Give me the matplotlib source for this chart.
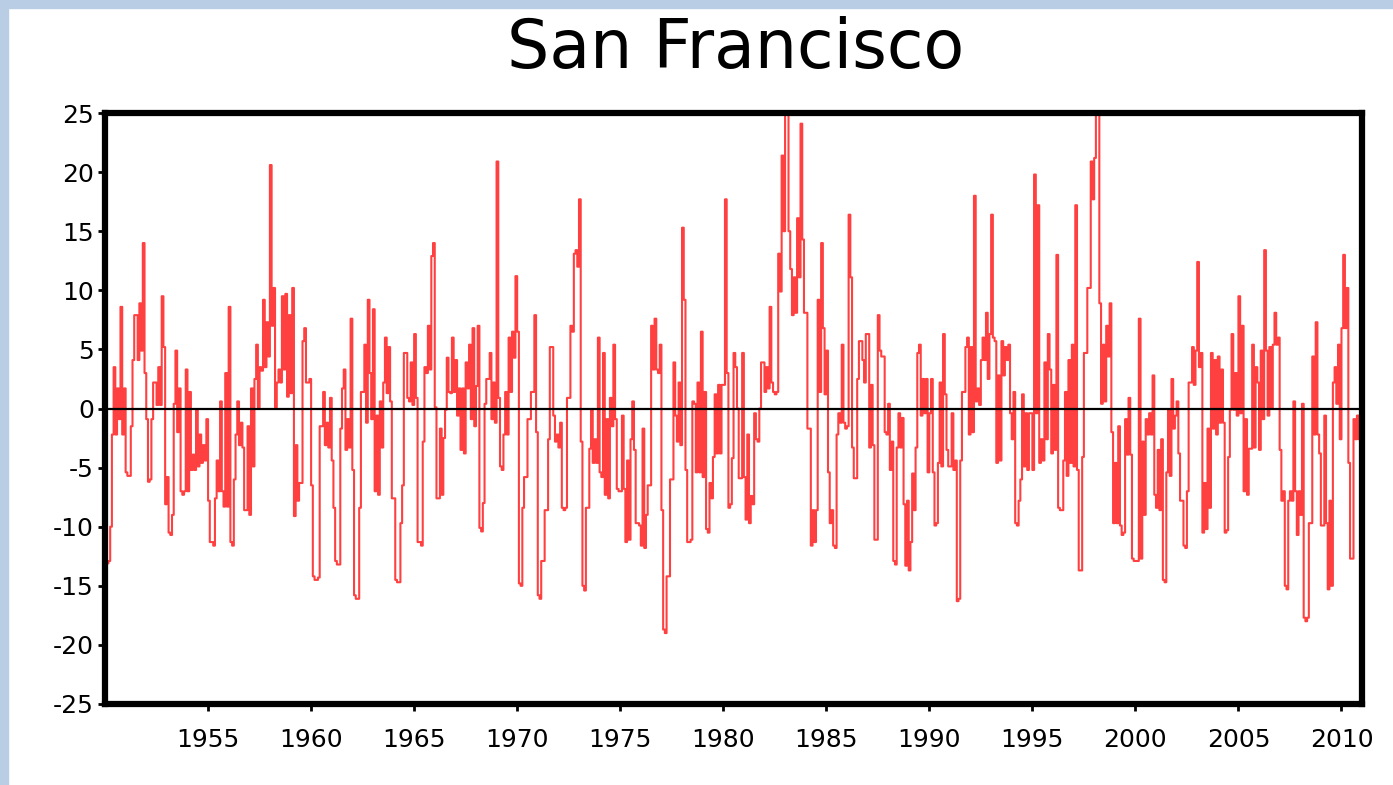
import numpy as np
import matplotlib.pyplot as plt

# monthly anomalies, one list per 5-year block
v1950 = [-6.8, -13.1, -12.9, -10, -2.2, 3.5, -2.2, 1.7, -0.9, 8.6,
         -2.2, 1.7, -5.4, -5.7, -5.7, -1.5, 4.1, 7.9, 7.9, 4.1,
         8.9, 4.9, 14, 3, -0.9, -6.2, -6.0, -0.9, 2.2, 2.2,
         0.3, 3.5, 0.3, 9.5, 5.2, -8.1, -5.8, -10.5, -10.7, -9,
         0.4, 4.9, -2, 1.7, -7, -7.3, -7, 3.3, -7, 1.4,
         -5.2, -3.9, -5.2, -0.1, -4.9, -2.2, -4.6, -3.1, -4.4, -0.9]
v1955 = [-7.8, -11.3, -11.3, -11.6, -7.6, -4.4, -7.0, 0.6, -7.0, -8.3,
         3.0, -8.3, 8.6, -11.3, -11.6, -6.0, -2.2, 0.6, -3.1, -1.2,
         -3.3, -8.6, -8.6, -1.5, -9.0, 1.7, -4.9, 2.5, 5.4, 0.1,
         3.5, 3.2, 9.2, 3.5, 7.3, 4.4, 20.6, 7.0, 10.2, 0.1,
         2.2, 3.3, 2.2, 9.5, 3.3, 9.7, 1.0, 7.9, 1.3, 10.2,
         -9.1, -3.1, -7.8, -6.3, -6.3, 5.7, 6.8, 2.2, 2.2, 2.5]
v1960 = [-6.5, -14.2, -14.5, -14.5, -14.3, -1.5, -1.5, 1.4, -3.1, -1.2,
         -3.3, 0.9, -4.4, -8.4, -12.9, -13.2, -13.2, -1.7, 1.7, 3.3,
         -3.5, -0.9, -3.3, 7.6, -5.2, -15.8, -16.1, -16.1, -8.4, 1.4,
         1.4, 5.4, -1.2, 9.2, 3.0, -0.9, 8.4, -7.0, -0.6, -7.3,
         0.6, -3.3, 2.2, 6.0, 1.3, 5.2, 0.6, -7.6, -7.6, -14.5,
         -14.7, -14.7, -9.7, -6.5, 4.7, 4.7, 0.9, 0.6, 3.9, 0.3]
v1965 = [6.3, 0.9, -11.3, -11.3, -11.6, -2.8, 3.5, 3.0, 7.0, 3.3,
         12.9, 14.0, 0.1, -7.6, -7.6, -1.7, -7.3, -2.5, -0.1, 4.3,
         1.4, 1.3, 6.0, 1.4, 4.1, -0.6, 1.7, -3.5, 1.7, -3.8,
         3.9, 1.7, 5.4, -0.9, 6.8, -1.5, 1.9, 7.0, -10.1, -10.4,
         -8.0, 0.4, 2.5, 2.5, 4.7, -0.9, 2.2, -1.2, 20.9, 0.9,
         -4.9, -5.2, -2.2, 1.4, -2.2, 6.0, 1.4, 6.5, 4.3, 11.2]
v1970 = [6.5, -14.8, -15.0, -8.4, -5.8, -5.8, -0.9, -0.9, 1.4, 1.4,
         7.9, -2.0, -15.8, -16.1, -12.9, -12.9, -8.6, -8.6, -2.6, 5.2,
         5.2, -0.6, -2.8, -2.2, -3.3, -1.2, -8.4, -8.6, -8.4, 0.9,
         0.9, 7.0, 6.5, 13.1, 13.4, 12.0, 17.7, -2.8, -15.0, -15.4,
         -8.4, -8.4, -3.4, -0.1, -4.6, -2.6, -4.6, 6.0, -5.4, -5.8,
         4.7, -7.3, -0.9, -7.6, 0.9, -1.5, 5.4, -0.9, -6.8, -7.0]
v1975 = [-7.0, -0.6, -6.8, -11.3, -4.4, -11.1, -2.6, 0.6, -3.5, -9.7,
         -9.7, -9.9, -11.6, -1.7, -11.8, -9.0, -6.5, -6.5, 7.0, 3.3,
         7.6, 3.3, 3.0, 5.4, -8.6, -18.7, -19.0, -14.2, -14.2, -6.0,
         -6.0, 3.9, -0.6, -2.8, 2.2, -3.1, 15.3, 9.2, -5.2, -11.3,
         -11.3, -11.1, 0.6, 0.4, -5.4, 2.2, -5.4, 6.5, -5.8, 1.4,
         -10.2, -10.5, -6.3, -7.6, -4.1, 1.2, -3.8, 2.0, -3.8, 2.0]
v1980 = [2.0, 17.7, 3.0, -8.4, -8.1, -4.2, 4.7, 3.5, 0.0, -5.9,
         -5.9, 4.7, -5.8, -9.4, -2.2, -9.7, -7.4, -8.1, -0.4, -2.6,
         -2.8, 0.0, 3.9, 3.9, 1.4, 3.5, 1.7, 8.6, 2.2, 1.4,
         1.2, 1.4, 13.1, 9.9, 21.4, 15.0, 24.9, 24.9, 15.0, 11.8,
         7.9, 11.1, 8.1, 16.1, 11.1, 24.1, 14.3, 8.1, 8.1, -1.7,
         -1.7, -11.6, -8.6, -11.3, -8.6, 9.2, 1.4, 14.0, 6.8, 1.2]
v1985 = [4.9, -5.4, -9.7, -8.6, -11.6, -11.8, -2.2, -0.4, -1.2, 5.4,
         -1.2, -1.7, -1.5, 16.4, 11.1, -3.3, -5.9, -5.9, 2.5, 5.7,
         5.7, 4.1, 2.2, 6.3, 6.3, -3.3, 2.0, -3.1, -11.1, -11.1,
         7.9, 4.9, 4.4, 4.4, -2.0, -2.2, 0.4, -5.2, -2.8, -12.9,
         -13.2, -3.3, -0.4, -3.3, -0.8, -8.1, -13.3, -7.8, -13.7, -11.3,
         -5.5, -8.6, -3.3, 4.7, 5.4, -0.6, 2.5, -0.4, 2.5, -5.4]
v1990 = [-0.4, 2.5, -5.4, -9.9, -9.7, -4.6, 2.2, -4.9, 6.3, 1.2,
         -3.5, -4.9, -4.9, -0.4, -5.2, -4.4, -16.3, -16.1, -4.4, 1.4,
         1.4, 5.2, 6.0, -2.2, 5.2, -2.0, 18.0, 0.6, 1.7, 0.3,
         4.1, 6.0, 4.1, 8.1, 2.5, 6.3, 16.4, 6.0, 5.7, -4.6,
         2.8, -4.4, 5.7, 2.8, 5.2, 4.1, 5.4, -0.4, -2.6, 1.4,
         -9.7, -9.9, -7.8, -6.0, 1.2, -4.9, -0.4, -5.2, -0.4, -0.4]
v1995 = [-5.2, 19.8, -0.4, 17.2, -4.6, -2.6, -4.4, 3.9, -2.6, 6.3,
         3.3, -3.8, 2.0, -3.5, 13.0, -8.4, -8.6, -8.6, -4.4, 1.4,
         -5.7, 4.1, -4.6, 5.4, -4.9, 17.2, -5.2, -13.7, -13.7, -4.1,
         4.7, 4.7, 10.2, 10.2, 20.9, 17.7, 21.2, 24.9, 24.9, 8.9,
         0.4, 5.4, 0.6, 7.0, 4.4, 8.9, -2.0, -9.7, -4.6, -9.7,
         -1.5, -9.9, -10.7, -10.5, -0.9, -3.9, 0.9, -3.9, -12.7, -12.9]
v2000 = [-12.9, -12.9, 7.6, -12.7, -2.8, -9.0, -0.9, -2.2, -0.4, -2.2,
         2.8, -7.3, -8.4, -3.5, -8.6, -2.6, -14.5, -14.7, -5.4, -0.1,
         -5.7, 2.5, -1.7, -0.6, 0.6, -3.8, -7.8, -7.8, -11.6, -11.8,
         -7.0, 2.2, 2.2, 5.2, 2.0, 4.9, 12.4, 3.5, 4.7, -10.5,
         -6.3, -10.2, -1.7, -8.4, 4.7, -1.7, 4.1, -2.2, 4.4, -1.2,
         3.3, -1.2, -10.5, -10.3, -4.1, -0.1, 6.3, -0.1, 3.0, -0.6]
v2005 = [9.5, -0.4, 7.0, -7.0, -0.9, -7.3, -3.4, -3.4, 5.4, -3.3,
         3.5, 2.2, -3.5, 4.9, -0.9, 13.4, 4.9, -0.6, 5.2, 0.0,
         5.4, 8.1, 5.4, 6.0, -3.5, -7.8, -7.0, -15.0, -15.3, -7.8,
         -7.0, -7.8, 0.6, -7.0, -10.7, -7.0, -9.0, 0.4, -17.7, -18.0,
         -17.7, -9.7, -9.7, 4.4, -2.2, 7.3, -2.2, -3.8, -9.9, -9.9,
         -0.6, -9.7, -15.3, -7.8, -15.0, 2.2, 3.5, 0.4, 5.4, -2.6,
         6.8, 13.0, 6.8, 10.2, -4.6, -12.7, -12.7, -0.9, -2.6, -0.6,
         -2.6, -2.6]

title = "San Francisco"
yticks = [25, 20, 15, 10, 5, 0, -5, -10, -15, -20, -25]
xticks = [1955, 1960, 1965, 1970, 1975, 1980, 1985, 1990, 1995, 2000, 2005, 2010]

values = np.array(v1950 + v1955 + v1960 + v1965 + v1970 + v1975
                  + v1980 + v1985 + v1990 + v1995 + v2000 + v2005)
years = 1950 + np.arange(len(values)) / 12.0
# repeat last value so the final step reaches the right edge
years = np.append(years, years[-1] + 1 / 12.0)
values = np.append(values, values[-1])

fig = plt.figure(figsize=(13.93, 7.85), dpi=100)
fig.patch.set_facecolor("white")
# light blue frame strips along top and left edge
fig.patches.append(plt.Rectangle((0, 0.99), 1, 0.01, transform=fig.transFigure,
                                 color="#b9cde5", zorder=0))
fig.patches.append(plt.Rectangle((0, 0), 0.0055, 1, transform=fig.transFigure,
                                 color="#b9cde5", zorder=0))

ax = fig.add_axes([0.0754, 0.1032, 0.9024, 0.7528])
ax.plot(years, values, drawstyle="steps-post", color="#ff4040", lw=1.5)
ax.axhline(0, color="black", lw=1.6)

ax.set_xlim(1950, 2011)
ax.set_ylim(-25, 25)
ax.set_yticks(yticks)
ax.set_yticklabels([str(t) for t in yticks])
ax.set_xticks(xticks)
ax.set_xticklabels([str(t) for t in xticks])
ax.tick_params(axis="both", labelsize=18, width=2, length=5, direction="out",
               colors="black")
ax.tick_params(axis="y", pad=3)
ax.tick_params(axis="x", pad=12)
for s in ax.spines.values():
    s.set_linewidth(4.5)

fig.text(0.528, 0.937, title, ha="center", va="center", fontsize=48)

fig.savefig("out.png", dpi=100)
